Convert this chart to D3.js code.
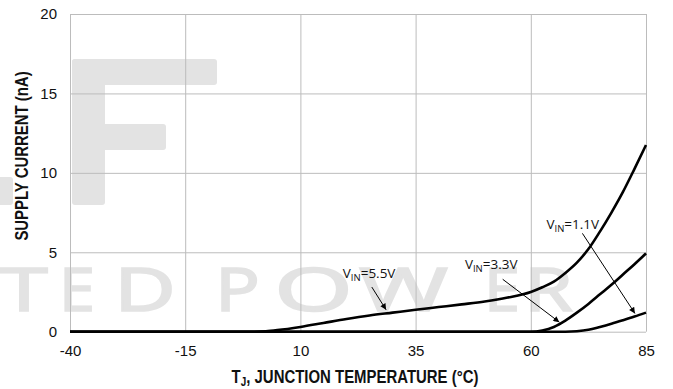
<!DOCTYPE html>
<html>
<head>
<meta charset="utf-8">
<script src="https://cdn.jsdelivr.net/npm/d3@7"></script>
<style>
  html, body { margin: 0; padding: 0; background: #fff; }
  svg { display: block; }
</style>
</head>
<body>
<svg id="chart" width="673" height="389"></svg>
<script>
// Supply current vs junction temperature for three input voltages
const temps  = [-40, -20, 0, 2.5, 5, 10, 15, 20, 25, 30, 35, 40, 45, 50, 55, 60, 62.5, 65, 67.5, 70, 72.5, 75, 77.5, 80, 82.5, 85];
const vin55  = [0, 0, 0, 0.03, 0.1, 0.3, 0.55, 0.8, 1.02, 1.2, 1.38, 1.55, 1.72, 1.9, 2.15, 2.5, 2.8, 3.15, 3.7, 4.35, 5.2, 6.3, 7.5, 8.8, 10.25, 11.75];
const vin33  = [0, 0, 0, 0, 0, 0, 0, 0, 0, 0, 0, 0, 0, 0, 0, 0, 0.08, 0.3, 0.7, 1.2, 1.75, 2.35, 2.95, 3.6, 4.25, 4.93];
const vin11  = [0, 0, 0, 0, 0, 0, 0, 0, 0, 0, 0, 0, 0, 0, 0, 0, 0, 0, 0, 0.03, 0.12, 0.3, 0.5, 0.72, 0.95, 1.2];

const xTicks = [-40, -15, 10, 35, 60, 85];
const yTicks = [0, 5, 10, 15, 20];

// Curve annotations: label anchor and arrow (data units)
const labels = [
  { sub: "IN", rest: "=5.5V", tx: 19.2, ty: 3.38, ax1: 25.5, ay1: 2.81, ax2: 28.6, ay2: 1.38 },
  { sub: "IN", rest: "=3.3V", tx: 45.7, ty: 3.95, ax1: 53.9, ay1: 3.3, ax2: 66.2, ay2: 0.6 },
  { sub: "IN", rest: "=1.1V", tx: 63.4, ty: 6.47, ax1: 71.2, ay1: 6.19, ax2: 82.6, ay2: 1.15 }
];

const svg = d3.select("#chart");
const margin = { left: 70, right: 27, top: 14, bottom: 57.3 };
const W = 673, H = 389;
const x = d3.scaleLinear().domain([-40, 85]).range([margin.left, W - margin.right]);
const y = d3.scaleLinear().domain([0, 20]).range([H - margin.bottom, margin.top]);

// Background logo lettering
const wmColor = "#e3e3e3";
const wm = svg.append("g").attr("fill", wmColor);
wm.append("rect").attr("x", 72).attr("y", 59).attr("width", 33).attr("height", 146).attr("rx", 3);
wm.append("rect").attr("x", 72).attr("y", 59).attr("width", 145).attr("height", 26).attr("rx", 3);
wm.append("rect").attr("x", 72).attr("y", 124).attr("width", 94).attr("height", 26).attr("rx", 3);
wm.append("rect").attr("x", -4).attr("y", 177).attr("width", 17).attr("height", 28).attr("rx", 3);
// letter, left edge, width
const wmLetters = [["T", 3, 42], ["E", 62, 30], ["D", 117, 56], ["P", 218, 39],
                   ["O", 277, 73], ["W", 362, 83], ["E", 487, 30], ["R", 527, 43]];
wm.selectAll("text.wm").data(wmLetters).join("text")
  .attr("class", "wm")
  .attr("x", d => d[1] - 3).attr("y", 311)
  .attr("textLength", d => d[2] + 6)
  .attr("lengthAdjust", "spacingAndGlyphs")
  .attr("font-family", "'Noto Sans', sans-serif")
  .attr("font-size", 60)
  .attr("stroke", wmColor)
  .attr("stroke-width", 1.5)
  .attr("stroke-linejoin", "miter")
  .text(d => d[0]);

// Grid lines with tick labels
const grid = "#bcbcbc";
const gx = svg.append("g")
  .attr("transform", `translate(0,${y(0)})`)
  .call(d3.axisBottom(x).tickValues(xTicks).tickFormat(d => String(d))
    .tickSizeInner(-(y(0) - y(20))).tickSizeOuter(0).tickPadding(14));
const gy = svg.append("g")
  .attr("transform", `translate(${x(-40)},0)`)
  .call(d3.axisLeft(y).tickValues(yTicks).tickFormat(d => String(d))
    .tickSizeInner(-(x(85) - x(-40))).tickSizeOuter(0).tickPadding(13));
[gx, gy].forEach(g => {
  g.select(".domain").remove();
  g.selectAll(".tick line").attr("stroke", grid).attr("stroke-width", 1);
  g.selectAll(".tick text")
    .attr("fill", "#111")
    .attr("font-family", "'Liberation Sans', Arial, sans-serif")
    .attr("font-size", 15);
});

// Curves
const line = d3.line().x(d => x(d[0])).y(d => y(d[1])).curve(d3.curveMonotoneX);
[vin11, vin33, vin55].forEach(series => {
  svg.append("path")
    .datum(temps.map((t, i) => [t, series[i]]))
    .attr("fill", "none")
    .attr("stroke", "#000")
    .attr("stroke-width", 2.6)
    .attr("stroke-linejoin", "round")
    .attr("d", line);
});

// Annotations
svg.append("defs").append("marker")
  .attr("id", "arrowhead")
  .attr("viewBox", "0 0 10 10").attr("refX", 10).attr("refY", 5)
  .attr("markerWidth", 7).attr("markerHeight", 6)
  .attr("markerUnits", "userSpaceOnUse")
  .attr("orient", "auto")
  .append("path").attr("d", "M0,0 L10,5 L0,10 Z").attr("fill", "#000");

const annFont = "'Open Sans', 'Noto Sans', sans-serif";
const ann = svg.append("g");
labels.forEach(l => {
  ann.append("line")
    .attr("x1", x(l.ax1)).attr("y1", y(l.ay1))
    .attr("x2", x(l.ax2)).attr("y2", y(l.ay2))
    .attr("stroke", "#000").attr("stroke-width", 1)
    .attr("marker-end", "url(#arrowhead)");
  const t = ann.append("text")
    .attr("x", x(l.tx)).attr("y", y(l.ty))
    .attr("font-family", annFont)
    .attr("font-size", 13.5)
    .attr("fill", "#111");
  t.append("tspan").attr("font-family", annFont).text("V");
  t.append("tspan").attr("font-family", annFont).attr("font-size", 9.5).attr("dy", 3).text(l.sub);
  t.append("tspan").attr("font-family", annFont).attr("dy", -3).text(l.rest);
});

// Axis titles (bold, horizontally condensed)
const titleFont = "'Liberation Sans', Arial, sans-serif";
const xt = svg.append("text")
  .attr("transform", "translate(355,383) scale(0.83,1)")
  .attr("text-anchor", "middle")
  .attr("font-family", titleFont).attr("font-weight", "bold").attr("font-size", 18)
  .attr("fill", "#111");
xt.append("tspan").text("T");
xt.append("tspan").attr("font-size", 12).attr("dy", 3).text("J");
xt.append("tspan").attr("dy", -3).text(", JUNCTION TEMPERATURE (°C)");

svg.append("text")
  .attr("transform", "translate(28,156) rotate(-90) scale(0.83,1)")
  .attr("text-anchor", "middle")
  .attr("font-family", titleFont).attr("font-weight", "bold").attr("font-size", 18)
  .attr("fill", "#111")
  .text("SUPPLY CURRENT (nA)");
</script>
</body>
</html>
